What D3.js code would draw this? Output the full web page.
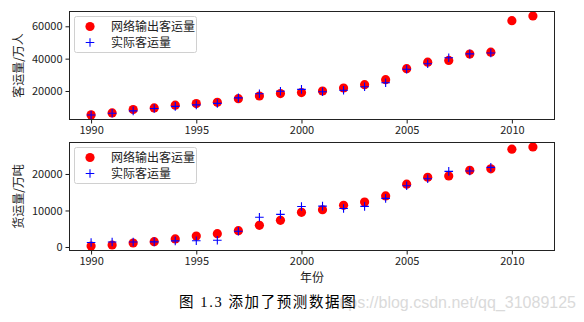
<!DOCTYPE html>
<html><head><meta charset="utf-8">
<script src="https://cdn.jsdelivr.net/npm/d3@7"></script>
<style>
html,body{margin:0;padding:0;background:#fff;}
svg{display:block;}
</style></head>
<body>
<svg id="c" width="584" height="322"></svg>
<script>
const years = [1990,1991,1992,1993,1994,1995,1996,1997,1998,1999,2000,2001,2002,2003,2004,2005,2006,2007,2008,2009,2010,2011];
const actualYears = [1990,1991,1992,1993,1994,1995,1996,1997,1998,1999,2000,2001,2002,2003,2004,2005,2006,2007,2008,2009];
const passengerPred = [5230,6460,8550,9540,11200,12200,13000,15260,16900,18400,19000,20000,21850,23900,27000,33800,37800,38900,42800,44000,63500,66400];
const passengerActual = [5126,6217,7730,9145,10460,11387,12353,15750,18304,19836,21024,19490,20433,22598,25107,33442,36836,40548,42927,43462];
const freightPred = [260,550,1100,1450,2200,3000,3650,4470,5940,7300,9500,10200,11400,12300,14000,17200,19100,19450,21000,21400,26800,27400];
const freightActual = [1237,1379,1385,1399,1663,1714,1834,4322,8132,8936,11099,11203,10524,11115,13320,16762,18673,20724,20803,21804];
const xTicks = [1990,1995,2000,2005,2010];
const topYTicks = [20000,40000,60000];
const bottomYTicks = [0,10000,20000];
const legendLabels = ["网络输出客运量","实际客运量"];
const topYLabel = "客运量/万人";
const bottomYLabel = "货运量/万吨";
const xLabel = "年份";
const caption = "图 1.3 添加了预测数据图";
const watermark = "https://blog.csdn.net/qq_31089125";

const svg = d3.select("#c");
const FONT = "'Noto Sans CJK SC', sans-serif";
const L = 69, R = 555;

function pad(vals){
  const mn = d3.min(vals), mx = d3.max(vals), r = mx - mn;
  return [mn - 0.05*r, mx + 0.05*r];
}
const xDom = pad(years);
const x = d3.scaleLinear().domain(xDom).range([L, R]);

function panel(top, bottom, pred, actual, yTicks, yLabel){
  const y = d3.scaleLinear().domain(pad(pred.concat(actual))).range([bottom, top]);
  const g = svg.append("g");
  g.selectAll("circle").data(pred).enter().append("circle")
    .attr("cx",(d,i)=>x(years[i])).attr("cy",d=>y(d)).attr("r",4.6).attr("fill","#ff0000");
  g.selectAll("path.plus").data(actual).enter().append("path").attr("class","plus")
    .attr("d",(d,i)=>{const cx=x(actualYears[i]), cy=y(d), s=4.3;
      return `M${cx-s},${cy}H${cx+s}M${cx},${cy-s}V${cy+s}`;})
    .attr("stroke","#0000ff").attr("stroke-width",1.1).attr("fill","none");
  const xa = g.append("g").attr("transform",`translate(0,${bottom})`)
    .call(d3.axisBottom(x).tickValues(xTicks).tickFormat(d3.format("d")).tickSize(3.5).tickPadding(3));
  const ya = g.append("g").attr("transform",`translate(${L},0)`)
    .call(d3.axisLeft(y).tickValues(yTicks).tickFormat(d3.format("d")).tickSize(3.5).tickPadding(3));
  [xa,ya].forEach(a=>{
    a.select(".domain").remove();
    a.selectAll("line").attr("stroke","#000").attr("stroke-width",0.9);
    a.selectAll("text").attr("font-family",FONT).attr("font-size",11).attr("fill","#222");
  });
  g.append("rect").attr("x",L+0.5).attr("y",top+0.5).attr("width",R-L-1).attr("height",bottom-top-1)
    .attr("fill","none").attr("stroke","#222").attr("stroke-width",1);
  g.append("text").attr("transform",`translate(${23},${(top+bottom)/2}) rotate(-90)`)
    .attr("text-anchor","middle").attr("font-family",FONT).attr("font-size",12).attr("fill","#222").text(yLabel);
  const lg = g.append("g").attr("transform",`translate(74,${top+5})`);
  lg.append("rect").attr("x",0.5).attr("y",0.5).attr("width",122).attr("height",36).attr("rx",2)
    .attr("fill","#fff").attr("fill-opacity",0.8).attr("stroke","#d0d0d0").attr("stroke-width",1);
  lg.append("circle").attr("cx",16).attr("cy",10.5).attr("r",4.6).attr("fill","#ff0000");
  lg.append("path").attr("d",`M${16-4.3},26.5H${16+4.3}M16,${26.5-4.3}V${26.5+4.3}`)
    .attr("stroke","#0000ff").attr("stroke-width",1.1);
  lg.selectAll("text").data(legendLabels).enter().append("text")
    .attr("x",37).attr("y",(d,i)=>10.5+i*16).attr("dy","0.35em")
    .attr("font-family",FONT).attr("font-size",12).attr("fill","#222").text(d=>d);
  return g;
}
panel(11, 120, passengerPred, passengerActual, topYTicks, topYLabel);
panel(142, 251, freightPred, freightActual, bottomYTicks, bottomYLabel);

svg.append("text").attr("x",(L+R)/2).attr("y",278).attr("dy","0.35em").attr("text-anchor","middle")
  .attr("font-family",FONT).attr("font-size",12).attr("fill","#222").text(xLabel);

svg.append("text").attr("x",576).attr("y",302).attr("dy","0.35em").attr("text-anchor","end")
  .attr("font-family","'Liberation Sans', Arial, sans-serif").attr("font-size",16).attr("fill","#dadada").text(watermark);
svg.append("text").attr("x",179).attr("y",302).attr("dy","0.35em").attr("letter-spacing",1.6)
  .attr("font-family","'Liberation Serif', 'Noto Sans CJK SC', serif").attr("font-size",14.5).attr("fill","#000").text(caption);
</script>
</body></html>
